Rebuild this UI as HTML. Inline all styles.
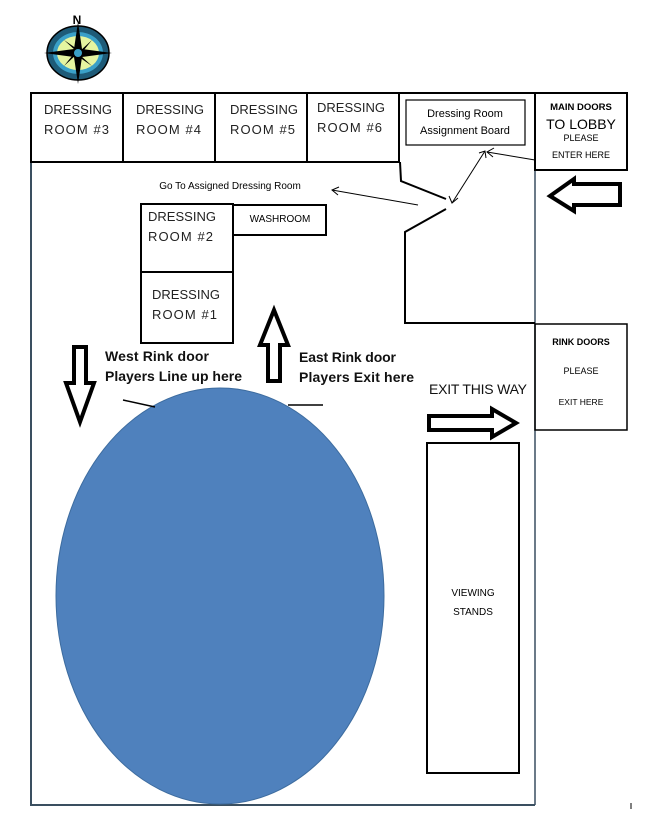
<!DOCTYPE html>
<html><head><style>
html,body{margin:0;padding:0;background:#fff;}
svg{display:block;}
text{font-family:"Liberation Sans",sans-serif;}
</style></head><body>
<svg width="647" height="818" viewBox="0 0 647 818" xmlns="http://www.w3.org/2000/svg">
<rect width="647" height="818" fill="#fff"/>
<text x="77" y="24" font-size="12" font-weight="bold" text-anchor="middle">N</text>
<ellipse cx="78" cy="53" rx="31" ry="27" fill="#1e5b78" stroke="#000" stroke-width="1.5"/>
<ellipse cx="78" cy="53" rx="25" ry="21" fill="#3aa0c8"/>
<ellipse cx="78" cy="53" rx="21" ry="17" fill="#e6f5a0"/>
<polygon points="78,22 82,49 112,53 82,57 78,84 74,57 44,53 74,49" fill="#000"/>
<polygon points="64,40 80,51 92,40 80,55 92,66 76,55 64,66 76,51" fill="#000"/>
<circle cx="78" cy="53" r="4" fill="#3aa0c8"/>
<line x1="31" y1="93" x2="31" y2="806" stroke="#3a4f60" stroke-width="2"/>
<line x1="31" y1="805" x2="535" y2="805" stroke="#3a4f60" stroke-width="2"/>
<line x1="535" y1="93" x2="535" y2="805" stroke="#3a4f60" stroke-width="1.5"/>
<line x1="31" y1="93" x2="535" y2="93" stroke="#000" stroke-width="2"/>
<g fill="none" stroke="#000" stroke-width="2">
<rect x="31" y="93" width="92" height="69"/>
<rect x="123" y="93" width="92" height="69"/>
<rect x="215" y="93" width="92" height="69"/>
<rect x="307" y="93" width="92" height="69"/>
<rect x="535" y="93" width="92" height="77"/>
<rect x="535" y="324" width="92" height="106" stroke-width="1.5"/>
<rect x="141" y="204" width="92" height="68"/>
<rect x="233" y="205" width="93" height="30"/>
<rect x="141" y="272" width="92" height="71"/>
<polyline points="400,162 401,181 446,199"/>
<polyline points="446,209 405,232 405,323 535,323"/>
</g>
<rect x="406" y="100" width="119" height="45" fill="#fff" stroke="#000" stroke-width="1.2"/>
<g font-size="13" fill="#222" textLength="76">
<text x="44" y="114" textLength="68">DRESSING</text><text x="44" y="134" textLength="65">ROOM #3</text>
<text x="136" y="114" textLength="68">DRESSING</text><text x="136" y="134" textLength="65">ROOM #4</text>
<text x="230" y="114" textLength="68">DRESSING</text><text x="230" y="134" textLength="65">ROOM #5</text>
<text x="317" y="112" textLength="68">DRESSING</text><text x="317" y="132" textLength="65">ROOM #6</text>
<text x="148" y="221" textLength="68">DRESSING</text><text x="148" y="241" textLength="65">ROOM #2</text>
<text x="152" y="299" textLength="68">DRESSING</text><text x="152" y="319" textLength="65">ROOM #1</text>
</g>
<text x="465" y="117" font-size="11" text-anchor="middle">Dressing Room</text>
<text x="465" y="134" font-size="11" text-anchor="middle">Assignment Board</text>
<text x="581" y="110" font-size="9.5" font-weight="bold" text-anchor="middle">MAIN DOORS</text>
<text x="581" y="129" font-size="14" text-anchor="middle">TO LOBBY</text>
<text x="581" y="141" font-size="9" text-anchor="middle">PLEASE</text>
<text x="581" y="158" font-size="9" text-anchor="middle">ENTER HERE</text>
<text x="581" y="345" font-size="9" font-weight="bold" text-anchor="middle">RINK DOORS</text>
<text x="581" y="374" font-size="9" text-anchor="middle">PLEASE</text>
<text x="581" y="405" font-size="8.5" text-anchor="middle">EXIT HERE</text>
<text x="280" y="222" font-size="10" text-anchor="middle">WASHROOM</text>
<text x="230" y="189" font-size="10" text-anchor="middle">Go To Assigned Dressing Room</text>
<g stroke="#000" stroke-width="1" fill="none">
<line x1="418" y1="205" x2="332" y2="190"/><polyline points="339,187 332,190 338,195"/>
<line x1="452" y1="203" x2="485" y2="151"/><polyline points="449,196 452,203 458,198"/><polyline points="479,153 485,151 486,158"/>
<line x1="535" y1="160" x2="487" y2="152"/><polyline points="494,148 487,152 493,157"/>
</g>
<ellipse cx="220" cy="596" rx="164" ry="208" fill="#4f81bd" stroke="#3d6c9f" stroke-width="1"/>
<line x1="123" y1="400" x2="155" y2="407" stroke="#000" stroke-width="1.5"/>
<line x1="288" y1="405" x2="323" y2="405" stroke="#000" stroke-width="1.5"/>
<rect x="427" y="443" width="92" height="330" fill="#fff" stroke="#000" stroke-width="2"/>
<text x="473" y="596" font-size="10" text-anchor="middle">VIEWING</text>
<text x="473" y="615" font-size="10" text-anchor="middle">STANDS</text>
<g fill="#fff" stroke="#000" stroke-width="4" stroke-linejoin="miter">
<polygon points="74,347 86,347 86,383 94,383 80,422 66,383 74,383"/>
<polygon points="268,381 280,381 280,345 288,345 274,310 260,345 268,345"/>
<polygon points="429,416 492,416 492,409 516,423 492,437 492,430 429,430"/>
<polygon points="620,184 574,184 574,179 550,196 574,211 574,205 620,205"/>
</g>
<g font-size="14" font-weight="bold" fill="#111">
<text x="105" y="361" textLength="104">West Rink door</text><text x="105" y="381" textLength="137">Players Line up here</text>
<text x="299" y="362" textLength="97">East Rink door</text><text x="299" y="382" textLength="115">Players Exit here</text>
</g>
<text x="429" y="394" font-size="14" fill="#111" textLength="98">EXIT THIS WAY</text>
<line x1="631" y1="803" x2="631" y2="809" stroke="#000" stroke-width="1"/>
</svg>
</body></html>
